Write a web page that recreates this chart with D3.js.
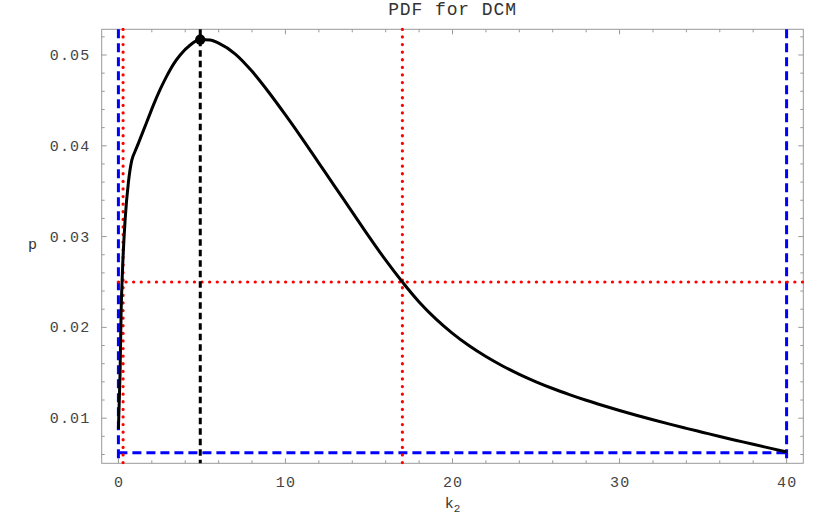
<!DOCTYPE html>
<html>
<head>
<meta charset="utf-8">
<script src="https://cdn.jsdelivr.net/npm/d3@7"></script>
<style>
  html, body { margin: 0; padding: 0; background: #fff; }
  svg { display: block; }
</style>
</head>
<body>
<svg id="chart" width="830" height="513"></svg>
<script>
// ---- data ----
const titleText = "PDF for DCM";
const xLabel = "k";
const xLabelSub = "2";
const yLabel = "p";

const kValues = [0.0, 0.05, 0.1, 0.16, 0.25, 0.4, 0.6, 0.8, 1.0, 1.2, 1.5, 1.8, 2.1, 2.5, 2.9, 3.3, 3.7, 4.3, 4.9, 5.5, 6, 7, 8, 9, 10, 11, 12, 13, 14, 15, 16, 17, 18, 19, 20, 21, 22, 23, 24, 25, 26, 27, 28, 29, 30, 31, 32, 33, 34, 35, 36, 37, 38, 39, 40];
const pValues = [0.0088, 0.0118, 0.0150, 0.0215, 0.0265, 0.0318, 0.0360, 0.0384, 0.0394, 0.0403, 0.0417, 0.0431, 0.0445, 0.0462, 0.0477, 0.0490, 0.0500, 0.0511, 0.0517, 0.05165, 0.0513, 0.0501, 0.0482, 0.0459, 0.0434, 0.0408, 0.0381, 0.0354, 0.0327, 0.0300, 0.0274, 0.0250, 0.02280, 0.02093, 0.01934, 0.01797, 0.01679, 0.01575, 0.01483, 0.01401, 0.01327, 0.01260, 0.01197, 0.01139, 0.01084, 0.01032, 0.00982, 0.00934, 0.00888, 0.00843, 0.00798, 0.00755, 0.00712, 0.00670, 0.00628];

const modeK = 4.9, modeP = 0.0517;      // black dot + black dashed line
const boundK = [0, 40];                   // blue dashed verticals
const boundP = 0.0062;                    // blue dashed horizontal
const redK = [0.28, 17];                  // red dotted verticals
const redP = 0.025;                       // red dotted horizontal

const xMajorTicks = [0, 10, 20, 30, 40];
const xMinorTicks = d3.range(0, 41, 2);
const yMajorTicks = [0.01, 0.02, 0.03, 0.04, 0.05];
const yMinorTicks = d3.range(6, 53, 2).map(v => v / 1000);

// ---- layout ----
const svg = d3.select("#chart");
const L = 101.7, R = 803.3, T = 29.3, B = 463.3;
const x = d3.scaleLinear().domain([-1, 41]).range([L, R]);
const y = d3.scaleLinear().domain([0.00503, 0.05283]).range([B, T]);

const frameColor = "#999";
const mono = "'Liberation Mono', 'DejaVu Sans Mono', monospace";

// frame
svg.append("rect").attr("x", L).attr("y", T).attr("width", R - L).attr("height", B - T)
  .attr("fill", "none").attr("stroke", frameColor).attr("stroke-width", 1);

// ticks (inward) on all four sides
const g = svg.append("g").attr("stroke", frameColor).attr("stroke-width", 1);
function xt(vals, len) {
  vals.forEach(v => {
    g.append("line").attr("x1", x(v)).attr("x2", x(v)).attr("y1", B).attr("y2", B - len);
    g.append("line").attr("x1", x(v)).attr("x2", x(v)).attr("y1", T).attr("y2", T + len);
  });
}
function yt(vals, len) {
  vals.forEach(v => {
    g.append("line").attr("y1", y(v)).attr("y2", y(v)).attr("x1", L).attr("x2", L + len);
    g.append("line").attr("y1", y(v)).attr("y2", y(v)).attr("x1", R).attr("x2", R - len);
  });
}
xt(xMinorTicks.filter(v => !xMajorTicks.includes(v)), 3);
xt(xMajorTicks, 5);
yt(yMinorTicks.filter(v => !yMajorTicks.some(m => Math.abs(m - v) < 1e-9)), 3);
yt(yMajorTicks, 5);

// tick labels
const fmtY = d3.format(".2f");
svg.append("g").selectAll("text").data(xMajorTicks).join("text")
  .attr("x", d => x(d) + 0.6).attr("y", 486.5)
  .attr("text-anchor", "middle")
  .attr("font-family", mono).attr("font-size", 15).attr("letter-spacing", "1.2px")
  .attr("fill", "#444").text(d => d);
svg.append("g").selectAll("text").data(yMajorTicks).join("text")
  .attr("x", 90.5).attr("y", d => y(d) + 5)
  .attr("text-anchor", "end")
  .attr("font-family", mono).attr("font-size", 15).attr("letter-spacing", "1.2px")
  .attr("fill", "#444").text(d => fmtY(d));

// reference lines
const refs = svg.append("g").attr("fill", "none");
// blue dashed
boundK.forEach(k => refs.append("line")
  .attr("x1", x(k)).attr("x2", x(k)).attr("y1", T).attr("y2", B)
  .attr("stroke", "#0000ff").attr("stroke-width", 3).attr("stroke-dasharray", "9,5"));
refs.append("line").attr("x1", x(boundK[0])).attr("x2", x(boundK[1]))
  .attr("y1", y(boundP)).attr("y2", y(boundP))
  .attr("stroke", "#0000ff").attr("stroke-width", 3).attr("stroke-dasharray", "9,5");
// red dotted
redK.forEach(k => refs.append("line")
  .attr("x1", x(k)).attr("x2", x(k)).attr("y1", T).attr("y2", B)
  .attr("stroke", "#ff0000").attr("stroke-width", 3.2).attr("stroke-linecap", "round")
  .attr("stroke-dasharray", "0.1,7.5"));
refs.append("line").attr("x1", x(0)).attr("x2", R)
  .attr("y1", y(redP)).attr("y2", y(redP))
  .attr("stroke", "#ff0000").attr("stroke-width", 3.2).attr("stroke-linecap", "round")
  .attr("stroke-dasharray", "0.1,7.5");
// black dashed at mode
refs.append("line").attr("x1", x(modeK)).attr("x2", x(modeK)).attr("y1", T).attr("y2", B)
  .attr("stroke", "#000").attr("stroke-width", 3).attr("stroke-dasharray", "6.5,4");

// curve
const pts = kValues.map((k, i) => [k, pValues[i]]);
svg.append("path").datum(pts)
  .attr("d", d3.line().x(d => x(d[0])).y(d => y(d[1])).curve(d3.curveMonotoneX))
  .attr("fill", "none").attr("stroke", "#000").attr("stroke-width", 3)
  .attr("stroke-linejoin", "round");

// mode dot
svg.append("circle").attr("cx", x(modeK)).attr("cy", y(modeP)).attr("r", 5.2).attr("fill", "#000");

// title and axis labels
svg.append("text").attr("x", (L + R) / 2).attr("y", 15).attr("text-anchor", "middle")
  .attr("font-family", mono).attr("font-size", 18).attr("letter-spacing", "0.9px")
  .attr("fill", "#333").text(titleText);

const xl = svg.append("text").attr("x", (L + R) / 2).attr("y", 508).attr("text-anchor", "middle")
  .attr("font-family", mono).attr("font-size", 15).attr("fill", "#333");
xl.append("tspan").text(xLabel);
xl.append("tspan").attr("font-size", 11).attr("dy", 3.5).text(xLabelSub);

svg.append("text").attr("x", 32.5).attr("y", 249).attr("text-anchor", "middle")
  .attr("font-family", mono).attr("font-size", 15).attr("fill", "#333").text(yLabel);
</script>
</body>
</html>
